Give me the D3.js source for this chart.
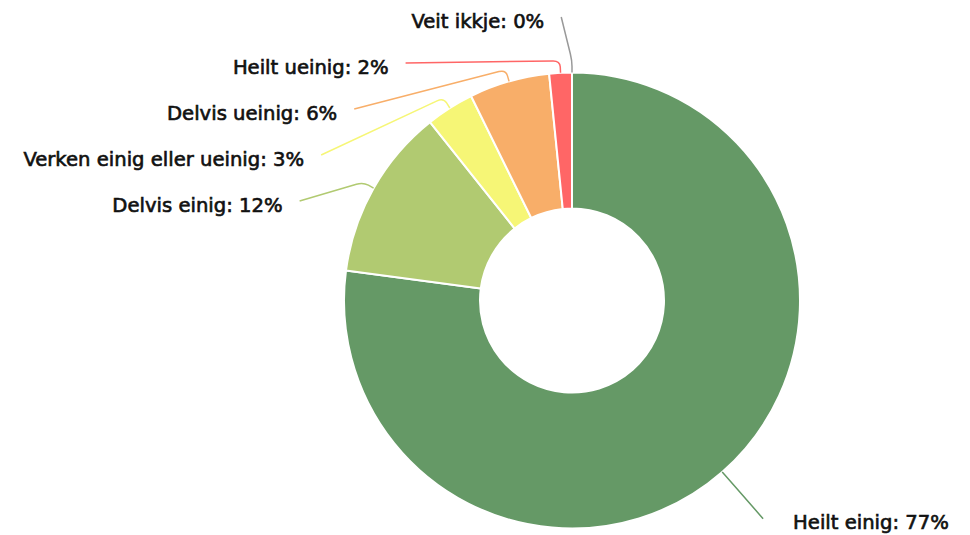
<!DOCTYPE html>
<html>
<head>
<meta charset="utf-8">
<script src="https://cdn.jsdelivr.net/npm/d3@7"></script>
<style>
  body { margin: 0; background: #fff; }
  text { font-family: "DejaVu Sans", sans-serif; font-size: 19.6px; fill: #111; stroke: #111; stroke-width: 0.65px; }
</style>
</head>
<body>
<script>
    // answers in the order they are drawn, clockwise from 12 o'clock
    var categories = ['Heilt einig', 'Delvis einig', 'Verken einig eller ueinig', 'Delvis ueinig', 'Heilt ueinig', 'Veit ikkje'];
    var shares = [77.1, 12.2, 3.4, 5.7, 1.6, 0];
    var colors = ['#659966', '#b1ca71', '#f6f676', '#f8ae69', '#ff6666', '#999999'];

    var w = 970, h = 535;
    var cx = 572, cy = 300.5;
    var outerRadius = 228, innerRadius = 92;
    var labelRadius = 290, elbowRadius = 240;

    var data = categories.map((c, i) => ({ name: c, value: shares[i], color: colors[i] }));

    var pie = d3.pie().value(d => d.value).sort(null);
    var arc = d3.arc().outerRadius(outerRadius).innerRadius(innerRadius);

    var svg = d3.select('body').append('svg')
        .attr('width', w).attr('height', h);

    var g = svg.append('g').attr('transform', 'translate(' + cx + ',' + cy + ')');

    var arcs = pie(data);

    g.selectAll('path.slice')
        .data(arcs)
        .enter()
        .append('path')
        .attr('class', 'slice')
        .attr('d', arc)
        .attr('fill', d => d.data.color)
        .attr('stroke', '#fff')
        .attr('stroke-width', 2)
        .attr('stroke-linejoin', 'round');

    // polar helper, angle measured clockwise from top
    function polar(a, r) { return [r * Math.sin(a), -r * Math.cos(a)]; }

    // label layout: natural position on a circle, then pushed down so they don't overlap
    arcs.forEach(d => {
        d.mid = (d.startAngle + d.endAngle) / 2;
        d.left = d.mid > Math.PI;
        d.natY = polar(d.mid, labelRadius)[1];
        d.ly = d.natY;
    });
    var spacing = 46, labelTop = -283.5;
    [true, false].forEach(side => {
        var list = arcs.filter(d => d.left === side).sort((a, b) => a.ly - b.ly);
        var prev = labelTop - spacing;
        list.forEach(d => {
            d.ly = Math.max(d.ly, prev + spacing);
            prev = d.ly;
        });
    });
    arcs.forEach(d => {
        // labels stuck at the top keep their natural x so the connector stays short
        var y = d.ly < labelTop + 2 ? d.natY + 0.2 : d.ly;
        var dx = Math.sqrt(Math.max(0, labelRadius * labelRadius - y * y));
        dx = Math.max(dx, 7);
        d.lx = d.left ? -dx : dx;
    });

    function connector(d) {
        var p0 = [d.lx, d.ly];
        var e = polar(d.mid, elbowRadius);
        var p2 = polar(d.mid, outerRadius);
        var r = 7;
        function toward(a, b, dist) {
            var vx = b[0] - a[0], vy = b[1] - a[1];
            var len = Math.sqrt(vx * vx + vy * vy) || 1;
            var k = Math.min(dist, len / 2) / len;
            return [a[0] + vx * k, a[1] + vy * k];
        }
        if (Math.abs(e[0] - p0[0]) < 10) {
            // short hook for the top label: bend right away, then straight down
            var c = [e[0], p0[1]];
            return 'M' + p0 + 'Q' + c + ' ' + [e[0], p0[1] + 9] + 'L' + p2;
        }
        var a1 = toward(e, p0, r), a2 = toward(e, p2, r);
        return 'M' + p0 + 'L' + a1 + 'Q' + e + ' ' + a2 + 'L' + p2;
    }

    g.selectAll('path.conn')
        .data(arcs)
        .enter()
        .append('path')
        .attr('class', 'conn')
        .attr('d', connector)
        .attr('fill', 'none')
        .attr('stroke', d => d.data.color)
        .attr('stroke-width', 1.5);

    g.selectAll('text')
        .data(arcs)
        .enter()
        .append('text')
        .attr('x', d => d.left ? d.lx - 17 : d.lx + 30)
        .attr('y', d => d.ly + 4)
        .attr('dy', '0.35em')
        .attr('text-anchor', d => d.left ? 'end' : 'start')
        .text(d => d.data.name + ': ' + Math.round(d.data.value) + '%');
</script>
</body>
</html>
